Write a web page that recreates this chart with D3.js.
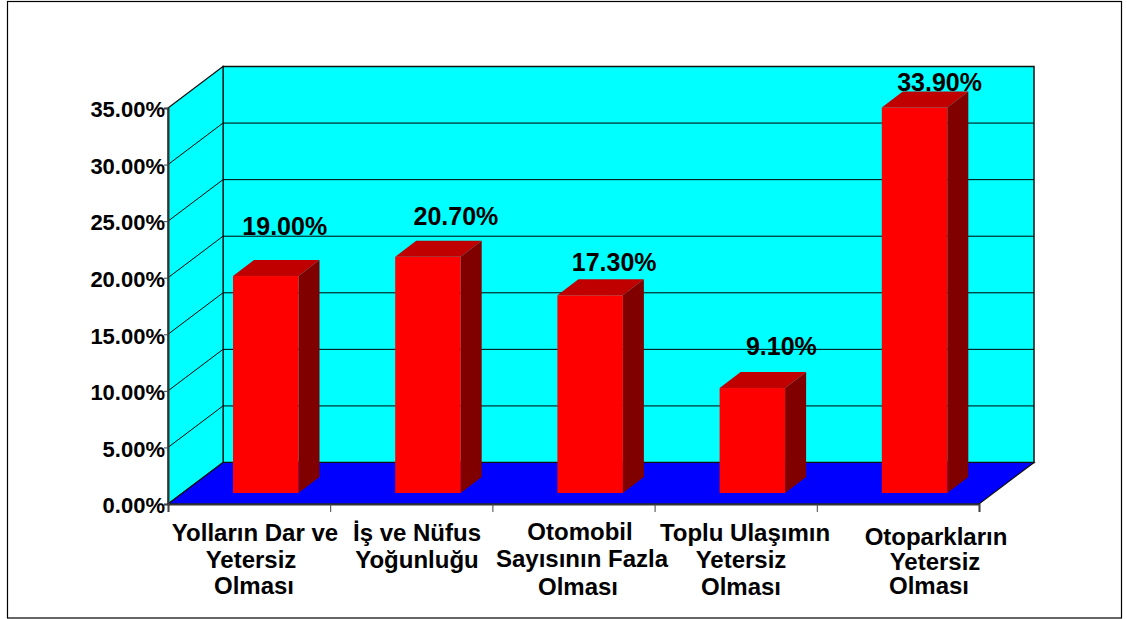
<!DOCTYPE html>
<html>
<head>
<meta charset="utf-8">
<script src="https://cdn.jsdelivr.net/npm/d3@7"></script>
<style>
html, body { margin: 0; padding: 0; background: #fff; }
svg { display: block; }
text { font-family: "Liberation Sans", Arial, sans-serif; font-weight: bold; fill: #000; }
</style>
</head>
<body>
<svg id="chart" width="1127" height="619"></svg>
<script>
let categories = ['Yolların Dar ve', 'İş ve Nüfus', 'Otomobil', 'Toplu Ulaşımın', 'Otoparkların']
let category_lines = [
    ['Yolların Dar ve', 'Yetersiz', 'Olması'],
    ['İş ve Nüfus', 'Yoğunluğu'],
    ['Otomobil', 'Sayısının Fazla', 'Olması'],
    ['Toplu Ulaşımın', 'Yetersiz', 'Olması'],
    ['Otoparkların', 'Yetersiz', 'Olması']
]
let values = [19.0, 20.7, 17.3, 9.1, 33.9]
let y_ticks = [0, 5, 10, 15, 20, 25, 30, 35]

// label placement in the original is uneven, so it is kept by hand
let value_label_nudge = [19, 28, 24, 29, 25]
let value_label_rise = [41, 32, 24, 33, 16]
let cat_label_x = [
    [255, 251, 254],
    [417, 417],
    [580, 582, 578],
    [745, 741, 741],
    [936, 935, 929]
]
let cat_label_y = [
    [541, 568, 594],
    [541, 568],
    [540, 567, 595],
    [541, 568, 595],
    [545, 570, 594]
]

let plot = { l: 168, r: 979, t: 108, b: 504 }
let depth = { x: 55, y: -41.5 }
let bar_depth = { x: 21, y: -16 }
let bar_w = 65.5

let svg = d3.select('#chart')

let x = d3.scaleBand().domain(d3.range(categories.length)).range([plot.l, plot.r])
let y = d3.scaleLinear().domain([0, 35]).range([plot.b, plot.t])

let poly = pts => pts.map(p => p.join(',')).join(' ')

svg.append('rect')
    .attr('x', 7.5).attr('y', 1.5).attr('width', 1114).attr('height', 616.5)
    .attr('fill', '#fff').attr('stroke', '#000').attr('stroke-width', 1.2)

// walls
svg.append('polygon')
    .attr('points', poly([[plot.l + depth.x, plot.t + depth.y], [plot.r + depth.x, plot.t + depth.y],
        [plot.r + depth.x, plot.b + depth.y], [plot.l + depth.x, plot.b + depth.y]]))
    .attr('fill', '#00ffff').attr('stroke', '#111').attr('stroke-width', 1.5)
svg.append('polygon')
    .attr('points', poly([[plot.l, plot.t], [plot.l + depth.x, plot.t + depth.y],
        [plot.l + depth.x, plot.b + depth.y], [plot.l, plot.b]]))
    .attr('fill', '#00ffff').attr('stroke', '#111').attr('stroke-width', 1.2)

// gridlines, wrapped round the side wall
let grid = svg.append('g')
grid.selectAll('polyline').data(y_ticks.slice(1, -1)).join('polyline')
    .attr('points', d => poly([[plot.l, y(d)], [plot.l + depth.x, y(d) + depth.y], [plot.r + depth.x, y(d) + depth.y]]))
    .attr('fill', 'none').attr('stroke', '#000').attr('stroke-width', 1)

// floor
svg.append('polygon')
    .attr('points', poly([[plot.l, plot.b], [plot.l + depth.x, plot.b + depth.y],
        [plot.r + depth.x, plot.b + depth.y], [plot.r, plot.b]]))
    .attr('fill', '#0000ff').attr('stroke', '#111').attr('stroke-width', 1.2)

// bars
let bars = svg.append('g').selectAll('g').data(values).join('g')
let bar_x = (d, i) => x(i) + 65
let bar_top = d => y(d) - 13
let bar_bot = plot.b - 11

bars.append('polygon')
    .attr('fill', '#800000')
    .attr('points', (d, i) => {
        let r = bar_x(d, i) + bar_w
        return poly([[r, bar_top(d)], [r + bar_depth.x, bar_top(d) + bar_depth.y],
            [r + bar_depth.x, bar_bot + bar_depth.y], [r, bar_bot]])
    })
bars.append('polygon')
    .attr('fill', '#c00000')
    .attr('points', (d, i) => {
        let l = bar_x(d, i)
        return poly([[l, bar_top(d)], [l + bar_depth.x, bar_top(d) + bar_depth.y],
            [l + bar_w + bar_depth.x, bar_top(d) + bar_depth.y], [l + bar_w, bar_top(d)]])
    })
bars.append('rect')
    .attr('fill', '#ff0000')
    .attr('x', bar_x)
    .attr('y', bar_top)
    .attr('width', bar_w)
    .attr('height', d => bar_bot - bar_top(d))

// axes
let y_axis = d3.axisLeft(y).tickValues(y_ticks).tickSize(4).tickPadding(0)
    .tickFormat(d => d3.format('.2f')(d) + '%')
let y_g = svg.append('g').attr('transform', `translate(${plot.l},0)`).call(y_axis)
y_g.selectAll('text').attr('font-size', 22).attr('font-family', null).attr('dy', '0.4em').attr('x', -3)

let x_axis = d3.axisBottom(d3.scaleLinear().domain([0, 5]).range([plot.l, plot.r]))
    .tickValues(d3.range(6)).tickSize(8).tickFormat('')
svg.append('g').attr('transform', `translate(0,${plot.b})`).call(x_axis)

svg.selectAll('.domain').attr('stroke', '#333').attr('stroke-width', 2)
svg.selectAll('.tick line').attr('stroke', '#444')

// value labels
bars.append('text')
    .attr('text-anchor', 'middle')
    .attr('font-size', 25)
    .attr('x', (d, i) => bar_x(d, i) + bar_w / 2 + value_label_nudge[i])
    .attr('y', (d, i) => bar_top(d) - value_label_rise[i])
    .text(d => d3.format('.2f')(d) + '%')

// category labels
category_lines.forEach((lines, i) => {
    svg.append('g').selectAll('text').data(lines).join('text')
        .attr('text-anchor', 'middle')
        .attr('font-size', 24)
        .attr('x', (d, j) => cat_label_x[i][j])
        .attr('y', (d, j) => cat_label_y[i][j])
        .text(d => d)
})
</script>
</body>
</html>
